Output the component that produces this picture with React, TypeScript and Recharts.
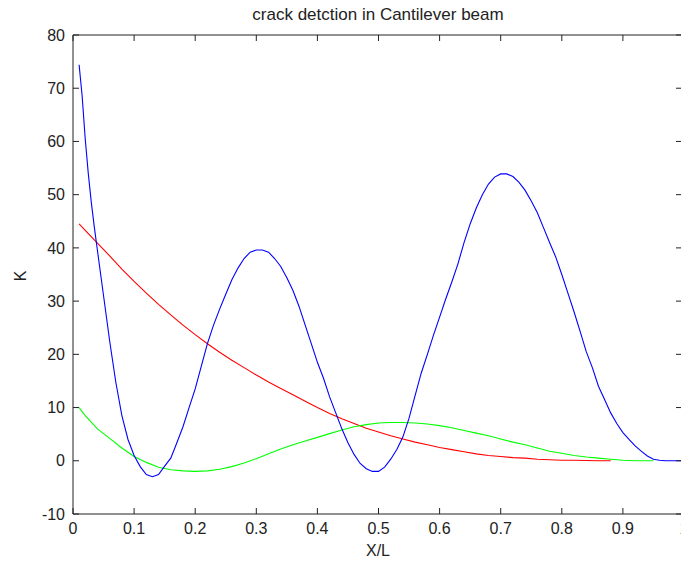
import { Line, LineChart, XAxis, YAxis } from 'recharts';

const xTicks = [0, 0.1, 0.2, 0.3, 0.4, 0.5, 0.6, 0.7, 0.8, 0.9, 1];
const yTicks = [-10, 0, 10, 20, 30, 40, 50, 60, 70, 80];

const blueX = [
  0.01, 0.015, 0.02, 0.025, 0.03, 0.035, 0.04, 0.05, 0.06, 0.07, 0.08, 0.09, 0.1,
  0.11, 0.12, 0.13, 0.14, 0.15, 0.16, 0.17, 0.18, 0.19, 0.2,
  0.21, 0.22, 0.23, 0.24, 0.25, 0.26, 0.27, 0.28, 0.29, 0.3,
  0.31, 0.32, 0.33, 0.34, 0.35, 0.36, 0.37, 0.38, 0.39, 0.4,
  0.41, 0.42, 0.43, 0.44, 0.45, 0.46, 0.47, 0.48, 0.49, 0.5,
  0.51, 0.52, 0.53, 0.54, 0.55, 0.56, 0.57, 0.58, 0.59, 0.6,
  0.61, 0.62, 0.63, 0.64, 0.65, 0.66, 0.67, 0.68, 0.69, 0.7,
  0.71, 0.72, 0.73, 0.74, 0.75, 0.76, 0.77, 0.78, 0.79, 0.8,
  0.81, 0.82, 0.83, 0.84, 0.85, 0.86, 0.87, 0.88, 0.89, 0.9,
  0.91, 0.92, 0.93, 0.94, 0.95, 0.96, 0.97, 0.98, 0.99, 1,
];
const blueK = [
  74.4, 68.5, 60.5, 54, 48.5, 43.8, 39.5, 31, 22.5, 14.8, 8.5, 4, 1,
  -1.1, -2.6, -3, -2.6, -1, 0.5, 3.4, 6.4, 10, 13.5,
  17.8, 22, 25.5, 28.5, 31.3, 34, 36.2, 38, 39.2, 39.6,
  39.6, 39.2, 38, 36.5, 34.4, 32, 29, 25.5, 22, 18.5,
  15.5, 12, 9, 6, 3.4, 1.2, -0.5, -1.5, -2, -2,
  -1.2, 0.3, 2.1, 4.5, 8, 12.3, 16.5, 20, 23.6, 27,
  30.4, 33.6, 37, 41, 44.5, 47.5, 50, 52, 53.3, 53.9,
  53.9, 53.4, 52.3, 50.8, 48.8, 46.6, 43.8, 41, 38.3, 35,
  31.5, 28, 24.3, 20.5, 17.5, 14, 11.5, 9, 7, 5.3,
  4, 2.8, 1.8, 0.9, 0.3, 0.1, 0, 0, 0, 0,
];

const redX = [
  0.01, 0.02, 0.04, 0.06, 0.08, 0.1, 0.12, 0.14, 0.16, 0.18, 0.2,
  0.22, 0.24, 0.26, 0.28, 0.3, 0.32, 0.34, 0.36, 0.38, 0.4,
  0.42, 0.44, 0.46, 0.48, 0.5, 0.52, 0.54, 0.56, 0.58, 0.6,
  0.62, 0.64, 0.66, 0.68, 0.7, 0.72, 0.74, 0.76, 0.78, 0.8,
  0.82, 0.84, 0.86, 0.88,
];
const redK = [
  44.5, 43.3, 40.9, 38.5, 36, 33.7, 31.5, 29.4, 27.4, 25.5, 23.7,
  22, 20.4, 18.9, 17.5, 16.1, 14.8, 13.6, 12.4, 11.2, 10,
  8.9, 7.9, 7, 6.1, 5.4, 4.7, 4.1, 3.5, 3, 2.5,
  2.1, 1.7, 1.3, 1, 0.8, 0.6, 0.5, 0.3, 0.2, 0.1,
  0.1, 0.05, 0, 0,
];

const greenX = [
  0.01, 0.02, 0.04, 0.06, 0.08, 0.1, 0.12, 0.14, 0.16, 0.18, 0.2,
  0.22, 0.24, 0.26, 0.28, 0.3, 0.32, 0.34, 0.36, 0.38, 0.4,
  0.42, 0.44, 0.46, 0.48, 0.5, 0.52, 0.54, 0.56, 0.58, 0.6,
  0.62, 0.64, 0.66, 0.68, 0.7, 0.72, 0.74, 0.76, 0.78, 0.8,
  0.82, 0.84, 0.86, 0.88, 0.9, 0.92, 0.95,
];
const greenK = [
  10, 8.5, 6, 4.2, 2.4, 0.8, -0.3, -1.2, -1.7, -1.9, -2,
  -1.9, -1.6, -1.1, -0.4, 0.4, 1.3, 2.2, 3, 3.7, 4.4,
  5.1, 5.8, 6.4, 6.8, 7.1, 7.2, 7.2, 7.1, 6.9, 6.6,
  6.2, 5.7, 5.2, 4.7, 4.1, 3.5, 3, 2.4, 1.8, 1.4,
  1, 0.7, 0.5, 0.3, 0.1, 0, 0,
];

const toRows = (xs: number[], ks: number[]) => xs.map((x, i) => ({ x, k: ks[i] }));

const font = '"Liberation Sans", Arial, Helvetica, sans-serif';
const tickText = { fontFamily: font, fontSize: 16, fill: '#222' };
const axisStroke = { stroke: '#222', strokeWidth: 1 };
// the box's top and right sides only carry tick marks, no labels
const NoLabel = () => <g />;

export default function App() {
  return (
    <div style={{ position: 'absolute', left: 0, top: 0, width: 700, height: 565, background: '#fff' }}>
      <div
        style={{
          position: 'absolute', left: 378, top: 15, transform: 'translate(-50%, -50%)',
          fontFamily: font, fontSize: 17, color: '#222', whiteSpace: 'nowrap',
        }}
      >
        crack detction in Cantilever beam
      </div>
      <div
        style={{
          position: 'absolute', left: 378, top: 551, transform: 'translate(-50%, -50%)',
          fontFamily: font, fontSize: 16, color: '#222',
        }}
      >
        X/L
      </div>
      <div
        style={{
          position: 'absolute', left: 21, top: 276, transform: 'translate(-50%, -50%) rotate(-90deg)',
          fontFamily: font, fontSize: 16, color: '#222',
        }}
      >
        K
      </div>
      <LineChart width={700} height={565} margin={{ top: 34, right: 15, bottom: 50, left: 72 }}>
        <XAxis
          xAxisId="b" type="number" dataKey="x" domain={[0, 1]} ticks={xTicks} interval={0}
          height={1} tickSize={-6} tickMargin={15} axisLine={axisStroke} tickLine={axisStroke}
          tick={tickText} tickFormatter={(v) => String(v)} allowDataOverflow
        />
        <XAxis
          xAxisId="t" orientation="top" type="number" dataKey="x" domain={[0, 1]} ticks={xTicks}
          interval={0} height={1} tickSize={-6} axisLine={axisStroke} tickLine={axisStroke}
          tick={<NoLabel />} allowDataOverflow
        />
        <YAxis
          yAxisId="l" type="number" domain={[-10, 80]} ticks={yTicks} interval={0} width={1}
          tickSize={-6} tickMargin={14} axisLine={axisStroke} tickLine={axisStroke}
          tick={tickText} allowDataOverflow
        />
        <YAxis
          yAxisId="r" orientation="right" type="number" domain={[-10, 80]} ticks={yTicks}
          interval={0} width={1} tickSize={-8} axisLine={axisStroke} tickLine={axisStroke}
          tick={<NoLabel />} allowDataOverflow
        />
        <Line
          xAxisId="b" yAxisId="l" data={toRows(redX, redK)} dataKey="k" type="linear"
          stroke="#ff0000" strokeWidth={1.1} dot={false} isAnimationActive={false}
        />
        <Line
          xAxisId="b" yAxisId="l" data={toRows(greenX, greenK)} dataKey="k" type="linear"
          stroke="#00ff00" strokeWidth={1.1} dot={false} isAnimationActive={false}
        />
        <Line
          xAxisId="b" yAxisId="l" data={toRows(blueX, blueK)} dataKey="k" type="linear"
          stroke="#0000ff" strokeWidth={1.1} dot={false} isAnimationActive={false}
        />
      </LineChart>
    </div>
  );
}
